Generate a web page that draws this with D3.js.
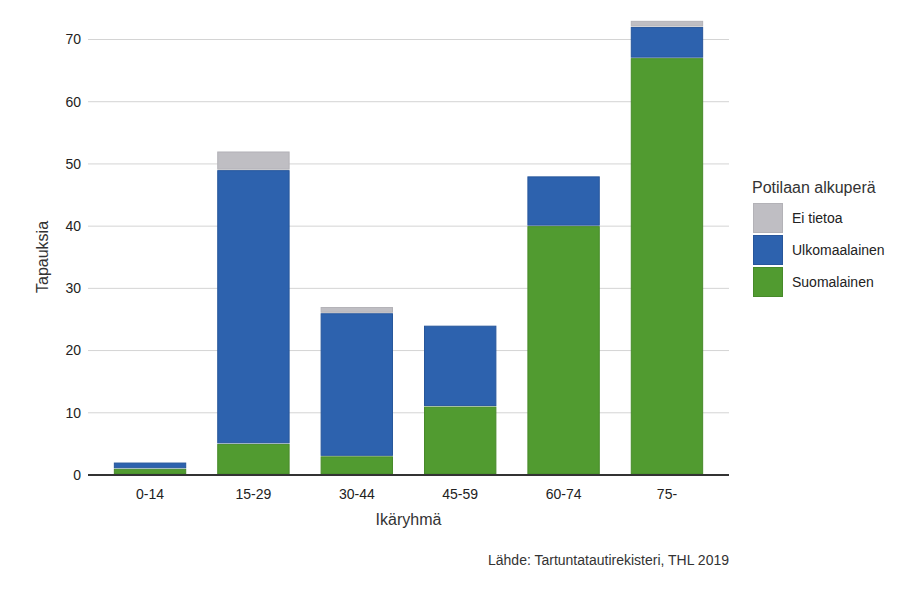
<!DOCTYPE html>
<html><head><meta charset="utf-8">
<script src="https://cdn.jsdelivr.net/npm/d3@7"></script>
<style>
body{margin:0;background:#fff;}
text{font-family:"Liberation Sans",Arial,sans-serif;}
</style></head>
<body><svg id="c" width="920" height="592"></svg>
<script>
const categories = ["0-14","15-29","30-44","45-59","60-74","75-"];
const suomalainen = [1,5,3,11,40,67];
const ulkomaalainen = [1,44,23,13,8,5];
const eiTietoa = [0,3,1,0,0,1];
const seriesNames = ["Suomalainen","Ulkomaalainen","Ei tietoa"];
const legendOrder = ["Ei tietoa","Ulkomaalainen","Suomalainen"];
const yTicks = [0,10,20,30,40,50,60,70];
const colors = {"Suomalainen":"#519B30","Ulkomaalainen":"#2D62AE","Ei tietoa":"#BFBEC3"};
const strokes = {"Suomalainen":"#478a2a","Ulkomaalainen":"#27569b","Ei tietoa":"#b3b2b7"};

const svg = d3.select("#c");
const left=88,right=729,bottom=475;
const x = d3.scaleBand().domain(categories).range([left,right]).paddingInner(0.3).paddingOuter(0.25);
const y = d3.scaleLinear().domain([0,70]).range([bottom,39.5]);

const g = svg.append("g");
g.selectAll("line.grid").data(yTicks.filter(t=>t>0)).join("line")
 .attr("x1",left).attr("x2",right).attr("y1",d=>y(d)).attr("y2",d=>y(d))
 .attr("stroke","#d4d4d4").attr("stroke-width",1);
g.selectAll("text.yt").data(yTicks).join("text")
 .attr("x",81).attr("y",d=>y(d)).attr("dy","0.35em").attr("text-anchor","end")
 .attr("font-size",14).attr("fill","#222").text(d=>d);

const data = categories.map((c,i)=>({cat:c,"Suomalainen":suomalainen[i],"Ulkomaalainen":ulkomaalainen[i],"Ei tietoa":eiTietoa[i]}));
const stack = d3.stack().keys(seriesNames)(data);
stack.forEach(s=>{
  g.selectAll(null).data(s.filter(d=>d[1]-d[0]>0)).join("rect")
   .attr("x",d=>x(d.data.cat)+0.5)
   .attr("width",x.bandwidth()-1)
   .attr("y",d=>y(d[1])+0.5)
   .attr("height",d=>Math.max(0,y(d[0])-y(d[1])-1.5))
   .attr("fill",colors[s.key]).attr("stroke",strokes[s.key]).attr("stroke-width",1);
});
g.append("line").attr("x1",left).attr("x2",right).attr("y1",y(0)).attr("y2",y(0))
 .attr("stroke","#333").attr("stroke-width",2);
g.selectAll("text.xt").data(categories).join("text")
 .attr("x",d=>x(d)+x.bandwidth()/2).attr("y",494).attr("dy","0.35em")
 .attr("text-anchor","middle").attr("font-size",14).attr("fill","#222").text(d=>d);
svg.append("text").attr("x",(left+right)/2).attr("y",525).attr("text-anchor","middle")
 .attr("font-size",16).attr("fill","#333").text("Ikäryhmä");
svg.append("text").attr("transform","translate(48,257) rotate(-90)").attr("text-anchor","middle")
 .attr("font-size",16).attr("fill","#333").text("Tapauksia");
svg.append("text").attr("x",right).attr("y",565).attr("text-anchor","end")
 .attr("font-size",14).attr("fill","#333").text("Lähde: Tartuntatautirekisteri, THL 2019");
const lg = svg.append("g");
lg.append("text").attr("x",752).attr("y",193).attr("font-size",16).attr("fill","#333").text("Potilaan alkuperä");
legendOrder.forEach((k,i)=>{
  lg.append("rect").attr("x",753.5).attr("y",203.5+i*32).attr("width",29).attr("height",29)
    .attr("fill",colors[k]).attr("stroke",strokes[k]);
  lg.append("text").attr("x",792).attr("y",218+i*32).attr("dy","0.35em").attr("font-size",14).attr("fill","#222").text(k);
});
</script></body></html>
